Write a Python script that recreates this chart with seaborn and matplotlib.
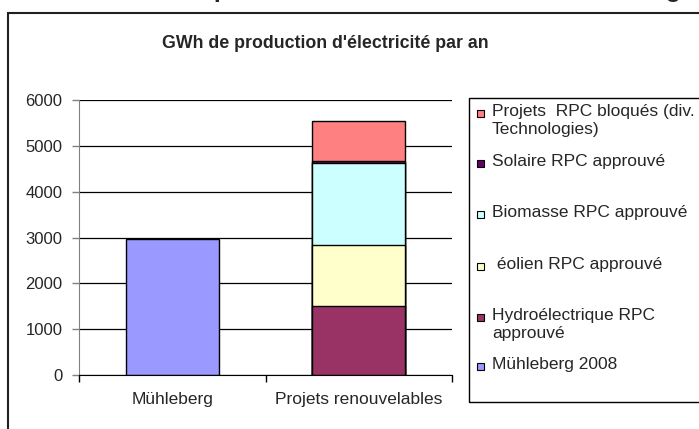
import matplotlib
matplotlib.use("Agg")
import matplotlib.pyplot as plt
from matplotlib.patches import Rectangle
import pandas as pd
import seaborn as sns

# Categories on the x axis
categories = ["Mühleberg", "Projets renouvelables"]

# GWh par an, one list per series (values per category), bottom to top
muhleberg_2008 = [2960, 0]
hydro_rpc = [0, 1500]
eolien_rpc = [0, 1340]
biomasse_rpc = [0, 1790]
solaire_rpc = [0, 40]
bloques_rpc = [0, 880]

series_names = [
    "Mühleberg 2008",
    "Hydroélectrique RPC\napprouvé",
    " éolien RPC approuvé",
    "Biomasse RPC approuvé",
    "Solaire RPC approuvé",
    "Projets  RPC bloqués (div.\nTechnologies)",
]
series_values = [muhleberg_2008, hydro_rpc, eolien_rpc, biomasse_rpc, solaire_rpc, bloques_rpc]
series_colors = ["#9999FF", "#993366", "#FFFFCC", "#CCFFFF", "#660066", "#FF8080"]

yticks = [0, 1000, 2000, 3000, 4000, 5000, 6000]

sns.set_style("white")
plt.rcParams['font.family'] = ['Liberation Sans', 'DejaVu Sans']

W, H = 699, 429
fig = plt.figure(figsize=(W / 100, H / 100), dpi=100)

# Long table with cumulative tops for stacking
rows = []
for cat_i, cat in enumerate(categories):
    total = 0
    for name, vals in zip(series_names, series_values):
        v = vals[cat_i]
        if v > 0:
            total += v
            rows.append({'category': cat, 'series': name, 'top': total})
df = pd.DataFrame(rows)

ax = fig.add_axes([79 / W, 1 - 375 / H, (452 - 79) / W, 275 / H])

# draw from the upper layer down so lower layers sit on top
for name, color in reversed(list(zip(series_names, series_colors))):
    sub = df[df['series'] == name]
    if sub.empty:
        continue
    sns.barplot(data=sub, x='category', y='top', order=categories, color=color,
                saturation=1, width=0.5, edgecolor='black', linewidth=1,
                errorbar=None, ax=ax)

ax.set_xlim(-0.5, 1.5)
ax.set_ylim(0, 6000)
ax.set_yticks(yticks)
ax.set_xlabel('')
ax.set_ylabel('')
ax.yaxis.grid(True, color='black', linewidth=0.9)
ax.set_axisbelow(True)
for s in ['top', 'right']:
    ax.spines[s].set_visible(False)
ax.spines['left'].set_color('#808080')
ax.spines['bottom'].set_color('black')
ax.tick_params(axis='y', which='major', direction='out', length=5, width=1,
               color='#808080', labelsize=12, pad=7, left=True)
ax.set_xticks([-0.5, 0.5, 1.5], minor=True)
ax.tick_params(axis='x', which='minor', direction='out', length=5, width=1, color='black', bottom=True)
ax.tick_params(axis='x', which='major', length=0, labelsize=12.5, pad=12)

# outer chart frame
fig.patches.append(Rectangle((8 / W, -0.1), 1.2, 1 - 13 / H + 0.1, transform=fig.transFigure,
                             fill=False, edgecolor='#202020', linewidth=1.5))

# page heading, mostly above the top edge (only descenders show)
fig.text(681 / W, 1 + 2.5 / H, "Potentiel de production renouvelable vs. Mühleberg",
         ha='right', va='baseline', fontsize=18, fontweight='bold')

# chart title
fig.text(325 / W, 1 - 44 / H, "GWh de production d'électricité par an",
         ha='center', va='center', fontsize=12.8, fontweight='bold')

# legend box
fig.patches.append(Rectangle((469 / W, 1 - 402 / H), 1.0, (402 - 98) / H, transform=fig.transFigure,
                             fill=False, edgecolor='black', linewidth=1))
legend_y = [113, 163, 214, 266, 317, 366]
legend_order = list(reversed(range(len(series_names))))
for yy, idx in zip(legend_y, legend_order):
    fig.patches.append(Rectangle((477 / W, 1 - (yy + 3.5) / H), 7 / W, 7 / H, transform=fig.transFigure,
                                 facecolor=series_colors[idx], edgecolor='black', linewidth=0.8))
    fig.text(492 / W, 1 - (yy - 9) / H, series_names[idx], ha='left', va='top',
             fontsize=12.5, linespacing=1.25)

fig.savefig('out.png', dpi=100)
